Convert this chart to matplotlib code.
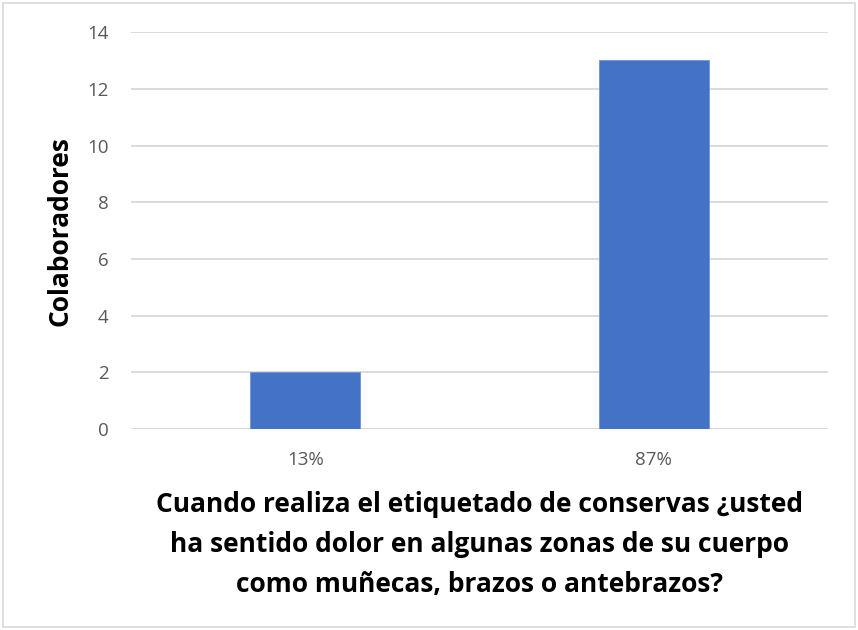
import matplotlib
matplotlib.use('Agg')
import matplotlib.pyplot as plt
from matplotlib.patches import Rectangle

plt.rcParams['font.family'] = ['Open Sans', 'DejaVu Sans']

# chart data
categories = ['13%', '87%']
colaboradores = [2, 13]
y_ticks = [0, 2, 4, 6, 8, 10, 12, 14]
x_title = ('Cuando realiza el etiquetado de conservas ¿usted\n'
           'ha sentido dolor en algunas zonas de su cuerpo\n'
           'como muñecas, brazos o antebrazos?')
y_title = 'Colaboradores'

fig = plt.figure(figsize=(8.58, 6.30), dpi=100)
ax = fig.add_axes([0.1527, 0.319, 0.8123, 0.630])

ax.bar(range(len(categories)), colaboradores, width=0.316, color='#4472C4',
       edgecolor='#6E93D6', linewidth=0.6, zorder=3)

ax.set_xlim(-0.5, len(categories) - 0.5)
ax.set_ylim(0, 14)
ax.set_yticks(y_ticks)
ax.set_xticks(range(len(categories)))
ax.set_xticklabels(categories)
ax.grid(axis='y', color='#D9D9D9', linewidth=1.3, zorder=0)
ax.tick_params(axis='both', length=0, labelsize=13.5, labelcolor='#595959')
ax.tick_params(axis='y', pad=16)
ax.tick_params(axis='x', pad=16)
for s in ax.spines.values():
    s.set_visible(False)

ax.set_ylabel(y_title, fontsize=19, fontweight='bold', labelpad=10)
ax.set_xlabel(x_title, fontsize=19, fontweight='bold', labelpad=16, linespacing=1.6)

fig.patches.append(Rectangle((0.004, 0.005), 0.992, 0.99, transform=fig.transFigure,
                             fill=False, edgecolor='#D9D9D9', linewidth=1.2))

fig.savefig('out.png', dpi=100)
